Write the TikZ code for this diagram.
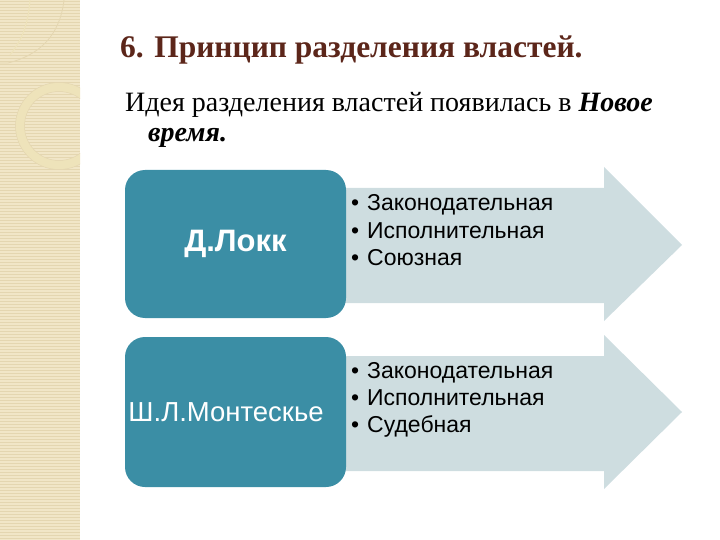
\documentclass[tikz,border=0pt]{standalone}
\usepackage{fontspec}
\setmainfont{Liberation Serif}
\setsansfont{Liberation Sans}
\usetikzlibrary{calc}
\definecolor{bandeau}{RGB}{241,230,199}
\definecolor{rayure}{RGB}{228,214,176}
\definecolor{anneau}{RGB}{238,227,186}
\definecolor{titre}{RGB}{92,38,26}
\definecolor{bleu}{RGB}{59,142,165}
\definecolor{fleche}{RGB}{206,221,224}

\tikzset{
  boite/.style={fill=bleu, rounded corners=20pt, minimum width=221pt, text=white, inner sep=0pt},
  puce/.style={anchor=base west, inner sep=0pt, font=\sffamily\fontsize{23}{27}\selectfont}
}
\newcommand{\pt}[1]{\makebox[16pt][l]{•}#1}

\begin{document}
\begin{tikzpicture}[x=1pt,y=-1pt]
		\useasboundingbox (0,0) rectangle (720,540);
		% Bandeau gauche
		\fill[bandeau] (0,0) rectangle (80,540);
		\foreach \y in {1.5,4.5,...,540}
			\draw[rayure, line width=0.8pt] (0,\y) -- (80,\y);
		\begin{scope}
			\clip (0,0) rectangle (80,540);
			% Anneau
			\draw[anneau, line width=9pt] (59,126) circle (39);
			\draw[rayure, line width=0.5pt] (59,126) circle (43.5);
			\draw[rayure, line width=0.5pt] (59,126) circle (34.5);
			% Feuille
			\draw[rayure, line width=0.8pt] (64,0) .. controls (60,35) and (40,55) .. (8,63) -- (0,63);
			\draw[anneau, line width=1pt] (30,0) .. controls (28,25) and (22,40) .. (10,55);
		\end{scope}
		% Titre
		\node[anchor=base west, inner sep=0pt, text=titre, font=\bfseries\fontsize{31.5}{34}\selectfont] (titre) at (120,58) {6. Принцип разделения властей.};
		% Texte
		\node[anchor=base west, inner sep=0pt, font=\fontsize{28}{32}\selectfont] (idee) at (125,112) {Идея разделения властей появилась в \textbf{\textit{Новое}}};
		\node[anchor=base west, inner sep=0pt, font=\fontsize{28}{32}\selectfont] (temps) at (148,142) {\textbf{\textit{время.}}};
		% Flèches
		\fill[fleche] (320,188) -- (604,188) -- (604,167) -- (682,245) -- (604,321) -- (604,303) -- (320,303) -- cycle;
		\fill[fleche] (320,356) -- (604,356) -- (604,335) -- (682,412) -- (604,489) -- (604,471) -- (320,471) -- cycle;
		% Boîtes
		\node[boite, minimum height=148pt, font=\sffamily\bfseries\fontsize{31}{34}\selectfont] (locke) at (235.5,244) {Д.Локк};
		\node[boite, minimum height=150pt, font=\sffamily\fontsize{27.5}{30}\selectfont] (montesquieu) at (235.5,412) {Ш.Л.Монтескье\hspace*{19pt}};
		% Listes
		\foreach \t [count=\i] in {Законодательная,Исполнительная,Союзная}
			\node[puce] (locke-\i) at (351,184+27*\i) {\pt{\t}};
		\foreach \t [count=\i] in {Законодательная,Исполнительная,Судебная}
			\node[puce] (montesquieu-\i) at (351,351+27*\i) {\pt{\t}};
\end{tikzpicture}
\end{document}
